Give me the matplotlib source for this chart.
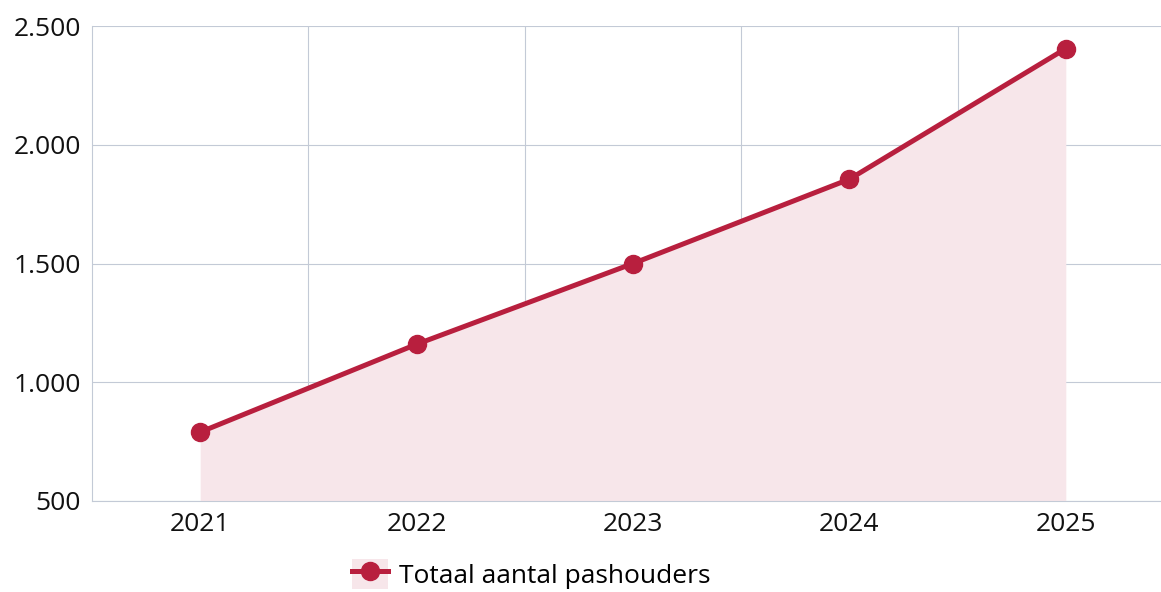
import numpy as np
import matplotlib
matplotlib.use("Agg")
import matplotlib.pyplot as plt
from matplotlib.patches import Patch
from matplotlib.lines import Line2D
from matplotlib.ticker import FuncFormatter, FixedLocator

# data
years = ["2021", "2022", "2023", "2024", "2025"]
pashouders = [790, 1160, 1500, 1855, 2405]
yticks = [500, 1000, 1500, 2000, 2500]

line_col = "#b81f3e"
fill_col = "#f7e6ea"
grid_col = "#c3cad6"

plt.rcParams['font.family'] = ['Open Sans', 'DejaVu Sans']

W, H = 1161, 592
fig = plt.figure(figsize=(W / 100, H / 100), dpi=100)
# axes runs a bit past the right edge, like the original
ax = fig.add_axes([92 / W, (H - 501) / H, (1174 - 92) / W, (501 - 26) / H])

x = np.arange(len(years))
ax.fill_between(x, 500, pashouders, color=fill_col, lw=0, zorder=1)
ax.plot(x, pashouders, color=line_col, lw=3.6, marker="o", ms=13,
        zorder=3, solid_capstyle="round")

ax.set_xlim(-0.5, len(years) - 0.5)
ax.set_ylim(500, 2500)
ax.set_xticks(x)
ax.set_xticklabels(years)
ax.xaxis.set_minor_locator(FixedLocator(x[:-1] + 0.5))
ax.set_yticks(yticks)
ax.yaxis.set_major_formatter(FuncFormatter(lambda v, p: f"{int(v):,}".replace(",", ".")))

ax.grid(axis="y", which="major", color=grid_col, lw=0.8, zorder=0)
ax.grid(axis="x", which="minor", color=grid_col, lw=0.8, zorder=0)
ax.set_axisbelow(True)
for s in ["top", "right"]:
    ax.spines[s].set_visible(False)
for s in ["left", "bottom"]:
    ax.spines[s].set_color(grid_col)
    ax.spines[s].set_linewidth(0.8)
ax.tick_params(axis="both", which="both", length=0, labelsize=19, colors="#111111")
ax.tick_params(axis="x", pad=8)
ax.tick_params(axis="y", pad=8)

handle = (Patch(facecolor=fill_col, edgecolor="none"),
          Line2D([], [], color=line_col, lw=3.6, marker="o", ms=13))
fig.legend([handle], ["Totaal aantal pashouders"], loc="center",
           bbox_to_anchor=(531 / W, 1 - 574 / H), frameon=False,
           fontsize=19, handlelength=1.4, handleheight=1.4, handletextpad=0.4)

plt.savefig("out.png", dpi=100)
